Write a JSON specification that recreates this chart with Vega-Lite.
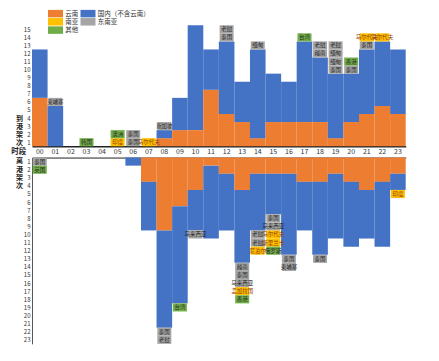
{
  "$schema": "https://vega.github.io/schema/vega-lite/v6.json",
  "padding": {"left": 10, "top": 9.25, "right": 5, "bottom": 5},
  "spacing": 11.3,
  "bounds": "flush",
  "config": {
    "font": "Noto Sans CJK SC",
    "view": {"stroke": null},
    "axis": {"grid": false, "ticks": false, "tickSize": 0, "labelFontSize": 7, "labelColor": "#333333", "labelFont": "Noto Sans CJK SC", "titleFont": "Noto Sans CJK SC", "titleColor": "#222222", "labelOverlap": false},
    "axisY": {"labelOverlap": false, "labelBound": false}
  },
  "data": {"values": [
    {"h":"00","d":"到港","c":"云南","n":6,"k":0,"lab":""},
    {"h":"00","d":"到港","c":"国内（不含云南）","n":6,"k":1,"lab":""},
    {"h":"01","d":"到港","c":"国内（不含云南）","n":5,"k":1,"lab":""},
    {"h":"01","d":"到港","c":"东南亚","n":1,"k":2,"lab":"柬埔寨"},
    {"h":"03","d":"到港","c":"其他","n":1,"k":2,"lab":"韩国"},
    {"h":"05","d":"到港","c":"南亚","n":1,"k":2,"lab":"印度"},
    {"h":"05","d":"到港","c":"其他","n":1,"k":3,"lab":"澳洲"},
    {"h":"06","d":"到港","c":"东南亚","n":1,"k":2,"lab":"泰国"},
    {"h":"06","d":"到港","c":"东南亚","n":1,"k":3,"lab":"泰国"},
    {"h":"07","d":"到港","c":"南亚","n":1,"k":2,"lab":"马尔代夫"},
    {"h":"08","d":"到港","c":"云南","n":1,"k":0,"lab":""},
    {"h":"08","d":"到港","c":"国内（不含云南）","n":1,"k":1,"lab":""},
    {"h":"08","d":"到港","c":"东南亚","n":1,"k":2,"lab":"新加坡"},
    {"h":"09","d":"到港","c":"云南","n":2,"k":0,"lab":""},
    {"h":"09","d":"到港","c":"国内（不含云南）","n":4,"k":1,"lab":""},
    {"h":"10","d":"到港","c":"云南","n":2,"k":0,"lab":""},
    {"h":"10","d":"到港","c":"国内（不含云南）","n":13,"k":1,"lab":""},
    {"h":"11","d":"到港","c":"云南","n":7,"k":0,"lab":""},
    {"h":"11","d":"到港","c":"国内（不含云南）","n":5,"k":1,"lab":""},
    {"h":"12","d":"到港","c":"云南","n":4,"k":0,"lab":""},
    {"h":"12","d":"到港","c":"国内（不含云南）","n":9,"k":1,"lab":""},
    {"h":"12","d":"到港","c":"东南亚","n":1,"k":2,"lab":"泰国"},
    {"h":"12","d":"到港","c":"东南亚","n":1,"k":3,"lab":"老挝"},
    {"h":"13","d":"到港","c":"云南","n":3,"k":0,"lab":""},
    {"h":"13","d":"到港","c":"国内（不含云南）","n":5,"k":1,"lab":""},
    {"h":"14","d":"到港","c":"云南","n":1,"k":0,"lab":""},
    {"h":"14","d":"到港","c":"国内（不含云南）","n":11,"k":1,"lab":""},
    {"h":"14","d":"到港","c":"东南亚","n":1,"k":2,"lab":"缅甸"},
    {"h":"15","d":"到港","c":"云南","n":3,"k":0,"lab":""},
    {"h":"15","d":"到港","c":"国内（不含云南）","n":6,"k":1,"lab":""},
    {"h":"16","d":"到港","c":"云南","n":3,"k":0,"lab":""},
    {"h":"16","d":"到港","c":"国内（不含云南）","n":5,"k":1,"lab":""},
    {"h":"17","d":"到港","c":"云南","n":3,"k":0,"lab":""},
    {"h":"17","d":"到港","c":"国内（不含云南）","n":10,"k":1,"lab":""},
    {"h":"17","d":"到港","c":"其他","n":1,"k":2,"lab":"台湾"},
    {"h":"18","d":"到港","c":"云南","n":3,"k":0,"lab":""},
    {"h":"18","d":"到港","c":"国内（不含云南）","n":8,"k":1,"lab":""},
    {"h":"18","d":"到港","c":"东南亚","n":1,"k":2,"lab":"越南"},
    {"h":"18","d":"到港","c":"东南亚","n":1,"k":3,"lab":"老挝"},
    {"h":"19","d":"到港","c":"云南","n":1,"k":0,"lab":""},
    {"h":"19","d":"到港","c":"国内（不含云南）","n":8,"k":1,"lab":""},
    {"h":"19","d":"到港","c":"东南亚","n":1,"k":2,"lab":"泰国"},
    {"h":"19","d":"到港","c":"东南亚","n":1,"k":3,"lab":"缅甸"},
    {"h":"19","d":"到港","c":"东南亚","n":1,"k":4,"lab":"缅甸"},
    {"h":"19","d":"到港","c":"东南亚","n":1,"k":5,"lab":"老挝"},
    {"h":"20","d":"到港","c":"云南","n":3,"k":0,"lab":""},
    {"h":"20","d":"到港","c":"国内（不含云南）","n":6,"k":1,"lab":""},
    {"h":"20","d":"到港","c":"东南亚","n":1,"k":2,"lab":"泰国"},
    {"h":"20","d":"到港","c":"其他","n":1,"k":3,"lab":"香港"},
    {"h":"21","d":"到港","c":"云南","n":4,"k":0,"lab":""},
    {"h":"21","d":"到港","c":"国内（不含云南）","n":8,"k":1,"lab":""},
    {"h":"21","d":"到港","c":"东南亚","n":1,"k":2,"lab":"泰国"},
    {"h":"21","d":"到港","c":"南亚","n":1,"k":3,"lab":"马尔代夫"},
    {"h":"22","d":"到港","c":"云南","n":5,"k":0,"lab":""},
    {"h":"22","d":"到港","c":"国内（不含云南）","n":8,"k":1,"lab":""},
    {"h":"22","d":"到港","c":"南亚","n":1,"k":2,"lab":"马尔代夫"},
    {"h":"23","d":"到港","c":"云南","n":4,"k":0,"lab":""},
    {"h":"23","d":"到港","c":"国内（不含云南）","n":8,"k":1,"lab":""},

    {"h":"00","d":"离港","c":"东南亚","n":1,"k":2,"lab":"泰国"},
    {"h":"00","d":"离港","c":"其他","n":1,"k":3,"lab":"英国"},
    {"h":"06","d":"离港","c":"国内（不含云南）","n":1,"k":1,"lab":""},
    {"h":"07","d":"离港","c":"云南","n":3,"k":0,"lab":""},
    {"h":"07","d":"离港","c":"国内（不含云南）","n":6,"k":1,"lab":""},
    {"h":"08","d":"离港","c":"云南","n":9,"k":0,"lab":""},
    {"h":"08","d":"离港","c":"国内（不含云南）","n":12,"k":1,"lab":""},
    {"h":"08","d":"离港","c":"东南亚","n":1,"k":2,"lab":"泰国"},
    {"h":"08","d":"离港","c":"东南亚","n":1,"k":3,"lab":"老挝"},
    {"h":"09","d":"离港","c":"云南","n":6,"k":0,"lab":""},
    {"h":"09","d":"离港","c":"国内（不含云南）","n":12,"k":1,"lab":""},
    {"h":"09","d":"离港","c":"其他","n":1,"k":2,"lab":"台湾"},
    {"h":"10","d":"离港","c":"云南","n":4,"k":0,"lab":""},
    {"h":"10","d":"离港","c":"国内（不含云南）","n":5,"k":1,"lab":""},
    {"h":"10","d":"离港","c":"东南亚","n":1,"k":2,"lab":"马来西亚"},
    {"h":"11","d":"离港","c":"云南","n":1,"k":0,"lab":""},
    {"h":"11","d":"离港","c":"国内（不含云南）","n":9,"k":1,"lab":""},
    {"h":"12","d":"离港","c":"云南","n":2,"k":0,"lab":""},
    {"h":"12","d":"离港","c":"国内（不含云南）","n":7,"k":1,"lab":""},
    {"h":"13","d":"离港","c":"云南","n":4,"k":0,"lab":""},
    {"h":"13","d":"离港","c":"国内（不含云南）","n":9,"k":1,"lab":""},
    {"h":"13","d":"离港","c":"东南亚","n":1,"k":2,"lab":"越南"},
    {"h":"13","d":"离港","c":"东南亚","n":1,"k":3,"lab":"泰国"},
    {"h":"13","d":"离港","c":"东南亚","n":1,"k":4,"lab":"马来西亚"},
    {"h":"13","d":"离港","c":"南亚","n":1,"k":5,"lab":"孟加拉国"},
    {"h":"13","d":"离港","c":"其他","n":1,"k":6,"lab":"香港"},
    {"h":"14","d":"离港","c":"云南","n":2,"k":0,"lab":""},
    {"h":"14","d":"离港","c":"国内（不含云南）","n":7,"k":1,"lab":""},
    {"h":"14","d":"离港","c":"东南亚","n":1,"k":2,"lab":"老挝"},
    {"h":"14","d":"离港","c":"东南亚","n":1,"k":3,"lab":"老挝"},
    {"h":"14","d":"离港","c":"南亚","n":1,"k":4,"lab":"尼泊尔"},
    {"h":"15","d":"离港","c":"云南","n":2,"k":0,"lab":""},
    {"h":"15","d":"离港","c":"国内（不含云南）","n":5,"k":1,"lab":""},
    {"h":"15","d":"离港","c":"东南亚","n":1,"k":2,"lab":"泰国"},
    {"h":"15","d":"离港","c":"东南亚","n":1,"k":3,"lab":"马来西亚"},
    {"h":"15","d":"离港","c":"南亚","n":1,"k":4,"lab":"马尔代夫"},
    {"h":"15","d":"离港","c":"南亚","n":1,"k":5,"lab":"斯里兰卡"},
    {"h":"15","d":"离港","c":"其他","n":1,"k":6,"lab":"俄罗斯"},
    {"h":"16","d":"离港","c":"云南","n":2,"k":0,"lab":""},
    {"h":"16","d":"离港","c":"国内（不含云南）","n":10,"k":1,"lab":""},
    {"h":"16","d":"离港","c":"东南亚","n":1,"k":2,"lab":"泰国"},
    {"h":"16","d":"离港","c":"东南亚","n":1,"k":3,"lab":"柬埔寨"},
    {"h":"17","d":"离港","c":"云南","n":3,"k":0,"lab":""},
    {"h":"17","d":"离港","c":"国内（不含云南）","n":6,"k":1,"lab":""},
    {"h":"18","d":"离港","c":"云南","n":3,"k":0,"lab":""},
    {"h":"18","d":"离港","c":"国内（不含云南）","n":9,"k":1,"lab":""},
    {"h":"18","d":"离港","c":"东南亚","n":1,"k":2,"lab":"泰国"},
    {"h":"19","d":"离港","c":"云南","n":2,"k":0,"lab":""},
    {"h":"19","d":"离港","c":"国内（不含云南）","n":8,"k":1,"lab":""},
    {"h":"20","d":"离港","c":"云南","n":3,"k":0,"lab":""},
    {"h":"20","d":"离港","c":"国内（不含云南）","n":8,"k":1,"lab":""},
    {"h":"21","d":"离港","c":"云南","n":4,"k":0,"lab":""},
    {"h":"21","d":"离港","c":"国内（不含云南）","n":6,"k":1,"lab":""},
    {"h":"22","d":"离港","c":"云南","n":3,"k":0,"lab":""},
    {"h":"22","d":"离港","c":"国内（不含云南）","n":8,"k":1,"lab":""},
    {"h":"23","d":"离港","c":"云南","n":2,"k":0,"lab":""},
    {"h":"23","d":"离港","c":"国内（不含云南）","n":2,"k":1,"lab":""},
    {"h":"23","d":"离港","c":"南亚","n":1,"k":2,"lab":"印度"}
  ]},
  "vconcat": [
    {
      "width": 373.7,
      "height": 121,
      "transform": [
        {"filter": "datum.d == '到港'"},
        {"stack": "n", "groupby": ["h"], "sort": [{"field": "k", "order": "ascending"}], "as": ["s0", "s1"]}
      ],
      "encoding": {
        "x": {"field": "h", "type": "ordinal",
          "scale": {"domain": ["00","01","02","03","04","05","06","07","08","09","10","11","12","13","14","15","16","17","18","19","20","21","22","23"], "paddingInner": 0, "paddingOuter": 0},
          "axis": {"orient": "bottom", "labelAngle": 0, "labelBaseline": "middle", "labelPadding": 5.5, "domainColor": "#222222", "domainWidth": 1.5,
            "title": "时段", "titleAngle": 0, "titleX": -13.7, "titleY": 5.5, "titleAlign": "center", "titleBaseline": "middle", "titleFontSize": 7.5, "titleFontWeight": "bold"}}
      },
      "layer": [
        {
          "mark": {"type": "bar"},
          "encoding": {
            "y": {"field": "s0", "type": "quantitative", "scale": {"domain": [0, 15], "nice": false},
              "axis": {"values": [0.5,1.5,2.5,3.5,4.5,5.5,6.5,7.5,8.5,9.5,10.5,11.5,12.5,13.5,14.5], "labelExpr": "datum.value + 0.5", "labelOverlap": false, "labelBound": false, "domain": false, "labelPadding": 2, "labelFontSize": 6,
                "title": ["到","港","架","次"], "titleAngle": 0, "titleX": -12.9, "titleY": 93.3, "titleAlign": "center", "titleBaseline": "middle", "titleLineHeight": 8.07, "titleFontSize": 7, "titleFontWeight": "bold"}},
            "y2": {"field": "s1"},
            "color": {"field": "c", "type": "nominal",
              "scale": {"domain": ["云南","南亚","其他","国内（不含云南）","东南亚"], "range": ["#ED7D31","#FFC000","#70AD47","#4472C4","#A5A5A5"]},
              "legend": {"orient": "none", "legendX": 19.5, "legendY": -15.75, "columns": 2, "title": null, "symbolType": "M-2,-1H2V1H-2Z", "symbolSize": 56.25, "symbolStrokeWidth": 0, "symbolOpacity": 1, "labelFontSize": 6.5, "labelColor": "#333333", "labelOffset": 5.75, "columnPadding": 1.5, "rowPadding": 0.3}},
            "size": {"condition": {"test": "datum.lab != ''", "value": 14}, "value": 15.6}
          }
        },
        {
          "transform": [{"filter": "datum.lab != ''"}],
          "mark": {"type": "text", "fontSize": 5.5, "dy": 4.03, "baseline": "middle", "align": "center"},
          "encoding": {
            "y": {"field": "s1", "type": "quantitative",
              "axis": {"values": [0.5,1.5,2.5,3.5,4.5,5.5,6.5,7.5,8.5,9.5,10.5,11.5,12.5,13.5,14.5], "labelExpr": "datum.value + 0.5", "labelOverlap": false, "labelBound": false, "domain": false, "labelPadding": 2, "labelFontSize": 6,
                "title": ["到","港","架","次"], "titleAngle": 0, "titleX": -12.9, "titleY": 93.3, "titleAlign": "center", "titleBaseline": "middle", "titleLineHeight": 8.07, "titleFontSize": 7, "titleFontWeight": "bold"}},
            "text": {"field": "lab", "type": "nominal"},
            "color": {"condition": {"test": "datum.c == '南亚'", "value": "#8B3A00"}, "value": "#262626"}
          }
        }
      ]
    },
    {
      "width": 373.7,
      "height": 186.3,
      "transform": [
        {"filter": "datum.d == '离港'"},
        {"stack": "n", "groupby": ["h"], "sort": [{"field": "k", "order": "ascending"}], "as": ["s0", "s1"]}
      ],
      "encoding": {
        "x": {"field": "h", "type": "ordinal",
          "scale": {"domain": ["00","01","02","03","04","05","06","07","08","09","10","11","12","13","14","15","16","17","18","19","20","21","22","23"], "paddingInner": 0, "paddingOuter": 0},
          "axis": {"orient": "top", "labels": false, "title": null, "domainColor": "#222222", "domainWidth": 1}}
      },
      "layer": [
        {
          "mark": {"type": "bar"},
          "encoding": {
            "y": {"field": "s0", "type": "quantitative", "scale": {"domain": [0, 23], "nice": false, "reverse": true},
              "axis": {"values": [0.5,1.5,2.5,3.5,4.5,5.5,6.5,7.5,8.5,9.5,10.5,11.5,12.5,13.5,14.5,15.5,16.5,17.5,18.5,19.5,20.5,21.5,22.5], "labelExpr": "datum.value + 0.5", "labelOverlap": false, "labelBound": false, "domain": true, "domainColor": "#555555", "labelPadding": 2, "labelFontSize": 6,
                "title": ["离","港","架","次"], "titleAngle": 0, "titleX": -12.9, "titleY": 3.4, "titleAlign": "center", "titleBaseline": "middle", "titleLineHeight": 8.1, "titleFontSize": 7, "titleFontWeight": "bold"}},
            "y2": {"field": "s1"},
            "color": {"field": "c", "type": "nominal",
              "scale": {"domain": ["云南","南亚","其他","国内（不含云南）","东南亚"], "range": ["#ED7D31","#FFC000","#70AD47","#4472C4","#A5A5A5"]},
              "legend": {"orient": "none", "legendX": 19.5, "legendY": -15.75, "columns": 2, "title": null, "symbolType": "M-2,-1H2V1H-2Z", "symbolSize": 56.25, "symbolStrokeWidth": 0, "symbolOpacity": 1, "labelFontSize": 6.5, "labelColor": "#333333", "labelOffset": 5.75, "columnPadding": 1.5, "rowPadding": 0.3}},
            "size": {"condition": {"test": "datum.lab != ''", "value": 14}, "value": 15.6}
          }
        },
        {
          "transform": [{"filter": "datum.lab != ''"}],
          "mark": {"type": "text", "fontSize": 5.5, "dy": -4.05, "baseline": "middle", "align": "center"},
          "encoding": {
            "y": {"field": "s1", "type": "quantitative",
              "axis": {"values": [0.5,1.5,2.5,3.5,4.5,5.5,6.5,7.5,8.5,9.5,10.5,11.5,12.5,13.5,14.5,15.5,16.5,17.5,18.5,19.5,20.5,21.5,22.5], "labelExpr": "datum.value + 0.5", "labelOverlap": false, "labelBound": false, "domain": true, "domainColor": "#555555", "labelPadding": 2, "labelFontSize": 6,
                "title": ["离","港","架","次"], "titleAngle": 0, "titleX": -12.9, "titleY": 3.4, "titleAlign": "center", "titleBaseline": "middle", "titleLineHeight": 8.1, "titleFontSize": 7, "titleFontWeight": "bold"}},
            "text": {"field": "lab", "type": "nominal"},
            "color": {"condition": {"test": "datum.c == '南亚'", "value": "#8B3A00"}, "value": "#262626"}
          }
        }
      ]
    }
  ]
}
